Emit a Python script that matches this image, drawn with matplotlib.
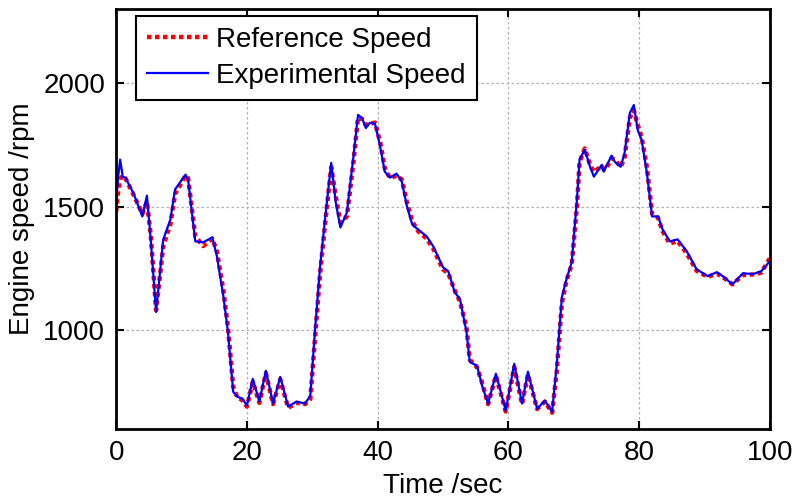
import matplotlib
matplotlib.use('Agg')
import matplotlib.pyplot as plt

# Donnees
temps = [0, 0.3, 0.6, 1.0, 1.4, 2.6, 4.0, 4.7, 5.3, 6.1, 7.2, 8.3, 9.0, 10.6, 11.0,
         12.1, 13.3, 14.0, 14.7, 15.4, 16.4, 17.1, 17.9, 18.5, 19.3, 20.0, 20.9,
         21.9, 22.9, 24.0, 25.1, 26.3, 27.6, 28.9, 29.7, 30.4, 31.2, 32.0, 32.9,
         33.6, 34.3, 35.3, 36.3, 37.0, 37.6, 38.2, 38.8, 39.6, 40.4, 41.1, 41.9,
         42.9, 43.7, 44.5, 45.3, 46.2, 47.5, 48.5, 50.0, 50.8, 51.8, 52.6, 53.6,
         54.1, 55.2, 56.0, 56.9, 58.1, 59.6, 60.9, 62.1, 63.0, 64.4, 65.6, 66.7,
         67.4, 68.2, 68.9, 69.7, 70.5, 70.9, 71.7, 72.5, 73.1, 74.3, 74.6, 75.1,
         75.8, 76.3, 77.2, 77.8, 78.6, 79.2, 79.8, 80.4, 81.2, 82.0, 82.9, 83.6,
         84.7, 85.9, 87.3, 88.8, 90.5, 91.9, 92.8, 94.3, 95.9, 97.4, 98.7, 100]

vitesse_exp = [1520, 1620, 1690, 1620, 1617, 1556, 1460, 1544, 1360, 1073, 1367, 1448,
               1569, 1629, 1609, 1359, 1355, 1365, 1375, 1300, 1137, 992, 750, 730,
               722, 694, 802, 710, 835, 702, 810, 690, 710, 702, 734, 992, 1258,
               1460, 1677, 1516, 1415, 1476, 1702, 1871, 1859, 1818, 1839, 1835,
               1742, 1641, 1617, 1633, 1601, 1500, 1427, 1407, 1379, 1339, 1254,
               1238, 1153, 1125, 992, 871, 855, 774, 702, 823, 673, 863, 702, 831,
               681, 714, 669, 855, 1133, 1206, 1274, 1528, 1690, 1730, 1661, 1621,
               1669, 1641, 1669, 1706, 1681, 1661, 1718, 1879, 1911, 1810, 1770,
               1637, 1460, 1460, 1407, 1359, 1367, 1319, 1246, 1218, 1234, 1218,
               1185, 1230, 1226, 1238, 1278]

vitesse_ref = [1480, 1560, 1610, 1625, 1615, 1550, 1470, 1520, 1380, 1080, 1340, 1430,
               1550, 1625, 1615, 1380, 1340, 1355, 1370, 1320, 1160, 1010, 770, 730,
               715, 690, 790, 705, 825, 700, 800, 685, 705, 700, 720, 960, 1230,
               1440, 1660, 1540, 1435, 1460, 1680, 1860, 1855, 1830, 1835, 1840,
               1760, 1655, 1615, 1625, 1610, 1515, 1440, 1400, 1370, 1330, 1245,
               1230, 1160, 1115, 1010, 880, 850, 785, 700, 815, 670, 850, 700, 820,
               680, 710, 665, 830, 1110, 1200, 1265, 1500, 1680, 1735, 1670, 1640,
               1665, 1650, 1660, 1695, 1690, 1660, 1700, 1860, 1890, 1830, 1780,
               1660, 1470, 1455, 1400, 1350, 1360, 1310, 1240, 1215, 1228, 1215,
               1185, 1222, 1225, 1232, 1290]

# ------ Graph ------
plt.rcParams['font.family'] = ['Liberation Sans', 'DejaVu Sans']
fig = plt.figure(figsize=(7.96, 4.98), dpi=100)
ax = fig.add_axes([0.146, 0.139, 0.821, 0.843])

ax.plot(temps, vitesse_ref, color='red', linestyle=(0, (1, 0.8)), linewidth=3.2,
        label='Reference Speed')
ax.plot(temps, vitesse_exp, color='blue', linewidth=1.6, label='Experimental Speed')

ax.set_xlim(0, 100)
ax.set_ylim(600, 2300)
ax.set_xticks([0, 20, 40, 60, 80, 100])
ax.set_yticks([1000, 1500, 2000])
ax.tick_params(direction='in', length=6, width=1.5, labelsize=20, top=True, right=True, pad=8)
for s in ax.spines.values():
    s.set_linewidth(2)
ax.grid(True, color='#b0b0b0', linestyle=(0, (2, 2)), linewidth=0.9)

ax.set_xlabel('Time /sec', fontsize=20, labelpad=5)
ax.set_ylabel('Engine speed /rpm', fontsize=20, labelpad=6)

leg = ax.legend(loc='upper left', bbox_to_anchor=(0.03, 0.983), fontsize=20,
                fancybox=False, framealpha=1, edgecolor='black', handlelength=2.2,
                borderpad=0.4, labelspacing=0.35, handletextpad=0.3, borderaxespad=0)
leg.get_frame().set_linewidth(1.5)

plt.savefig('out.png', dpi=100)
